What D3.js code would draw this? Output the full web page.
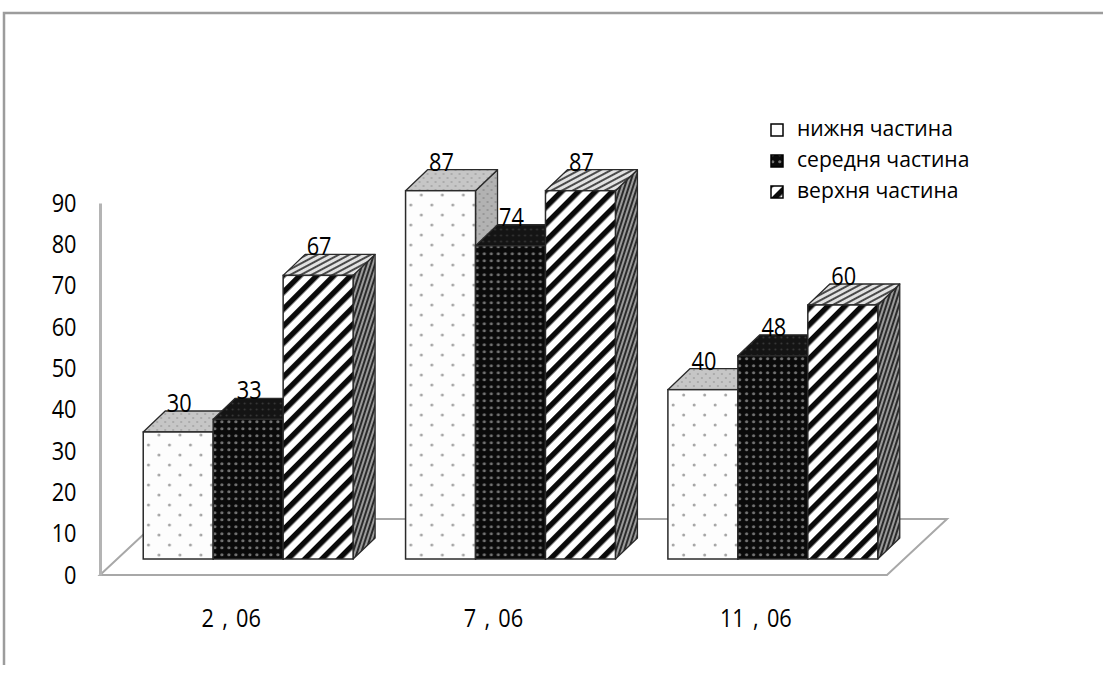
<!DOCTYPE html>
<html>
<head>
<meta charset="utf-8">
<script src="https://cdn.jsdelivr.net/npm/d3@7"></script>
<style>
  body { margin: 0; background: #fff; }
  text { font-family: "Open Sans", "Noto Sans", sans-serif; fill: #000; }
</style>
</head>
<body>
<div id="chart"></div>
<script>
// data
const categories = ["2 , 06", "7 , 06", "11 , 06"];
const seriesNames = ["нижня частина", "середня частина", "верхня частина"];
const lowerPart = [30, 87, 40];
const middlePart = [33, 74, 48];
const upperPart = [67, 87, 60];
const yTicks = [0, 10, 20, 30, 40, 50, 60, 70, 80, 90];

const width = 1103, height = 673;

const svg = d3.select("#chart")
  .append("svg")
    .attr("width", width)
    .attr("height", height);

// 3d look: floor, plane where bars stand, depth of each bar
const floor = {left: 100, right: 887, y: 575, dx: 60, dy: -56};
const shift = {dx: 17, dy: -16};
const depth = {dx: 22, dy: -21};

const x0 = d3.scaleBand()
  .domain(categories)
  .range([floor.left + shift.dx, floor.right + shift.dx])
  .paddingInner(0.2)
  .paddingOuter(0.1);

const x1 = d3.scaleBand()
  .domain(seriesNames)
  .range([0, x0.bandwidth()]);

const yBar = d3.scaleLinear()
  .domain([0, 90])
  .range([floor.y + shift.dy, floor.y + shift.dy - 381]);

const yAxis = d3.scaleLinear()
  .domain([0, 90])
  .range([floor.y, 203]);

// patterns
const defs = svg.append("defs");

function dotPattern(id, tile, bg, dot, r, stagger) {
  const p = defs.append("pattern")
    .attr("id", id)
    .attr("patternUnits", "userSpaceOnUse")
    .attr("width", tile[0]).attr("height", tile[1]);
  p.append("rect").attr("width", tile[0]).attr("height", tile[1]).attr("fill", bg);
  p.append("circle").attr("cx", tile[0] / 4).attr("cy", tile[1] / 4).attr("r", r).attr("fill", dot);
  if (stagger) {
    p.append("circle").attr("cx", tile[0] * 3 / 4).attr("cy", tile[1] * 3 / 4).attr("r", r).attr("fill", dot);
  }
}

function stripePattern(id, tile, angle, bg, fg, w) {
  const p = defs.append("pattern")
    .attr("id", id)
    .attr("patternUnits", "userSpaceOnUse")
    .attr("width", tile).attr("height", tile)
    .attr("patternTransform", `rotate(${angle})`);
  p.append("rect").attr("width", tile).attr("height", tile).attr("fill", bg);
  p.append("rect").attr("width", w).attr("height", tile).attr("fill", fg);
}

dotPattern("dotsFront", [21, 20], "#fdfdfd", "#a4a4a4", 1.5, true);
dotPattern("dotsTop", [8, 8], "#c6c6c6", "#a2a2a2", 1, true);
dotPattern("dotsSide", [8, 8], "#b2b2b2", "#8e8e8e", 1, true);
dotPattern("blackFront", [7, 7], "#0a0a0a", "#737373", 1.6, false);
dotPattern("blackTop", [6, 6], "#141414", "#3a3a3a", 1, false);
dotPattern("blackSide", [6, 6], "#1c1c1c", "#4a4a4a", 1, false);
stripePattern("stripeFront", 12, 45, "#ffffff", "#0a0a0a", 5.5);
stripePattern("stripeTop", 5, 62, "#e2e2e2", "#4a4a4a", 2);
stripePattern("stripeSide", 4, 18, "#9a9a9a", "#2a2a2a", 2);

const faces = [
  ["url(#dotsFront)", "url(#dotsTop)", "url(#dotsSide)"],
  ["url(#blackFront)", "url(#blackTop)", "url(#blackSide)"],
  ["url(#stripeFront)", "url(#stripeTop)", "url(#stripeSide)"]
];

// frame of the picture
svg.append("path")
  .attr("d", `M4,665V13H${width}`)
  .attr("fill", "none")
  .attr("stroke", "#9c9c9c")
  .attr("stroke-width", 2.5);

// floor
svg.append("path")
  .attr("d", `M${floor.left},${floor.y}L${floor.right},${floor.y}` +
             `L${floor.right + floor.dx},${floor.y + floor.dy}` +
             `L${floor.left + floor.dx},${floor.y + floor.dy}Z`)
  .attr("fill", "#fff")
  .attr("stroke", "#a8a8a8")
  .attr("stroke-width", 2);

// y axis
const yG = svg.append("g")
  .attr("transform", `translate(${floor.left},0)`)
  .call(d3.axisLeft(yAxis).tickValues(yTicks).tickSize(0).tickPadding(27));
yG.select(".domain").attr("stroke", "#b4b4b4").attr("stroke-width", 3);
yG.selectAll(".tick text")
  .style("font-family", "'Open Sans', 'Noto Sans', sans-serif")
  .style("font-size", "25px")
  .attr("fill", "#000")
  .attr("transform", "scale(0.87,1)");

// bars, drawn left to right so nearer faces cover the hidden ones
const rows = categories.map((c, i) => ({
  cat: c,
  values: [lowerPart[i], middlePart[i], upperPart[i]]
}));

const bw = x1.bandwidth();
const y0 = yBar(0);

const groups = svg.selectAll(".group")
  .data(rows)
  .join("g")
    .attr("class", "group")
    .attr("transform", d => `translate(${x0(d.cat)},0)`);

const bars = groups.selectAll(".bar")
  .data(d => d.values.map((v, j) => ({v: v, j: j, name: seriesNames[j]})))
  .join("g")
    .attr("class", "bar")
    .attr("transform", d => `translate(${x1(d.name)},0)`);

bars.append("path")
  .attr("d", d => {
    const yt = yBar(d.v);
    return `M${bw},${yt}L${bw + depth.dx},${yt + depth.dy}L${bw + depth.dx},${y0 + depth.dy}L${bw},${y0}Z`;
  })
  .attr("fill", d => faces[d.j][2])
  .attr("stroke", "#2a2a2a")
  .attr("stroke-width", 1.3)
  .attr("stroke-linejoin", "round");

bars.append("path")
  .attr("d", d => {
    const yt = yBar(d.v);
    return `M0,${yt}L${depth.dx},${yt + depth.dy}L${bw + depth.dx},${yt + depth.dy}L${bw},${yt}Z`;
  })
  .attr("fill", d => faces[d.j][1])
  .attr("stroke", "#2a2a2a")
  .attr("stroke-width", 1.3)
  .attr("stroke-linejoin", "round");

bars.append("rect")
  .attr("x", 0)
  .attr("y", d => yBar(d.v))
  .attr("width", bw)
  .attr("height", d => y0 - yBar(d.v))
  .attr("fill", d => faces[d.j][0])
  .attr("stroke", "#2a2a2a")
  .attr("stroke-width", 1.5);

// value labels on top of everything
const labels = svg.append("g");
rows.forEach(r => {
  r.values.forEach((v, j) => {
    labels.append("text")
      .attr("text-anchor", "middle")
      .attr("transform", `translate(${x0(r.cat) + x1(seriesNames[j]) + bw / 2 + 1},${yBar(v) - 20}) scale(0.87,1)`)
      .style("font-size", "25px")
      .text(v);
  });
});

// category labels, in the front plane of the floor
svg.append("g")
  .selectAll("text")
  .data(categories)
  .join("text")
    .attr("text-anchor", "middle")
    .attr("transform", d => `translate(${x0(d) + x0.bandwidth() / 2 - shift.dx},627) scale(0.87,1)`)
    .style("font-size", "25px")
    .style("word-spacing", "3px")
    .text(d => d);

// legend
const legend = svg.append("g")
  .attr("transform", "translate(771,136)");

const item = legend.selectAll("g")
  .data(seriesNames)
  .join("g")
    .attr("transform", (d, i) => `translate(0,${i * 31})`);

item.append("rect")
  .attr("x", 0)
  .attr("y", -12)
  .attr("width", 12)
  .attr("height", 12)
  .attr("fill", (d, i) => faces[i][0])
  .attr("stroke", "#000")
  .attr("stroke-width", 1.5);

item.append("text")
  .attr("transform", "translate(26,0) scale(0.96,1)")
  .style("font-size", "22px")
  .text(d => d);
</script>
</body>
</html>
